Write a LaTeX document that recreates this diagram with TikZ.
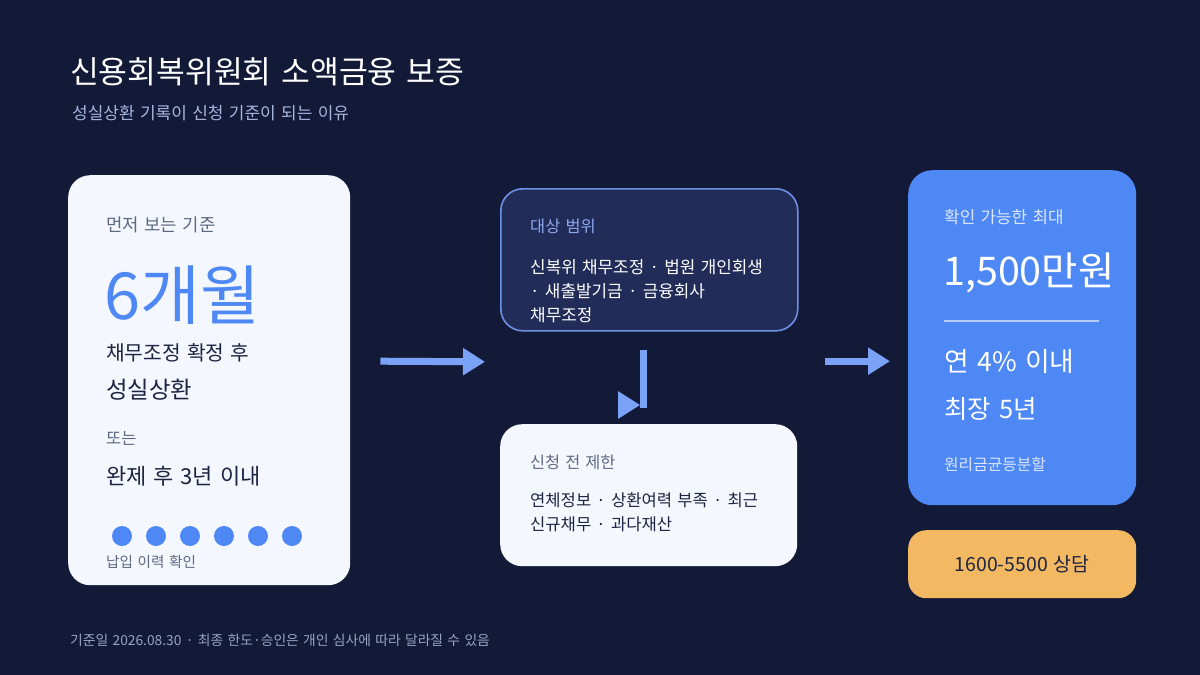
\documentclass[tikz,border=0pt]{standalone}
\usepackage{fontspec}
\setmainfont[WordSpace=1.4]{Noto Sans CJK KR}
\usepackage{xcolor}
\usepackage{tikz}
\usetikzlibrary{calc, positioning, arrows.meta}
\definecolor{pagebg}{HTML}{121A38}
\definecolor{paper}{HTML}{F4F7FE}
\definecolor{navybox}{HTML}{212C59}
\definecolor{navyline}{HTML}{6F90E4}
\definecolor{mainblue}{HTML}{4E88F4}
\definecolor{flowblue}{HTML}{7AA2F6}
\definecolor{peach}{HTML}{F2B862}
\definecolor{inkdark}{HTML}{1D2441}
\definecolor{inkgray}{HTML}{5F6882}
\definecolor{softblue}{HTML}{8DA7EE}
\definecolor{subtle}{HTML}{A8B6DE}
\definecolor{footgray}{HTML}{98A4C6}
\definecolor{paleblue}{HTML}{DCE7FF}
\definecolor{ruleblue}{HTML}{B5CBFA}
\tikzstyle{card} = [rectangle, rounded corners=22pt, 
inner sep=0pt, 
anchor=north west]
\tikzstyle{txt} = [anchor=west, 
inner sep=0pt, 
align=left]
\tikzstyle{dot} = [circle, fill=mainblue, minimum size=20pt, inner sep=0pt]
\tikzstyle{flowline} = [line width=7pt, draw=flowblue]
\tikzstyle{flow} = [flowline, -{Triangle[length=22pt, width=26pt]}]
\newcommand{\fs}[1]{\fontsize{#1}{#1}\selectfont}

\begin{document}
\begin{tikzpicture}[x=1pt, y=-1pt]
			\fill [pagebg] (0,0) rectangle (1200,675);
			\useasboundingbox (0,0) rectangle (1200,675);
			
			\node (title)[txt, text=white, font=\fs{31.3}] at (70,72) {신용회복위원회 소액금융 보증};
			\node (subtitle)[txt, text=subtle, font=\fs{17}] at (72,113) {성실상환 기록이 신청 기준이 되는 이유};
			
			% left card
			\node (leftCard)[card, fill=paper, minimum width=282pt, minimum height=410pt] at (68,175) {};
			\node (firstLbl)[txt, text=inkgray, font=\fs{17.8}] at (106,225) {먼저 보는 기준};
			\node (months)[txt, text=mainblue, font=\fs{65}] at (104,295) {6개월};
			\node (afterAdj)[txt, text=inkdark, font=\fs{20.3}] at (106,353) {채무조정 확정 후};
			\node (faithful)[txt, text=inkdark, font=\fs{23.4}] at (106,390) {성실상환};
			\node (orLbl)[txt, text=inkgray, font=\fs{16.5}] at (106,438) {또는};
			\node (paidOff)[txt, text=inkdark, font=\fs{22}] at (106,476) {완제 후 3년 이내};
			\foreach \i in {0,...,5}
				\node (dot\i)[dot] at ({122+34*\i},536) {};
			\node (payLbl)[txt, text=inkgray, font=\fs{14.6}] at (106,562) {납입 이력 확인};
			
			% middle boxes
			\node (scope)[card, fill=navybox, draw=navyline, line width=1.6pt, minimum width=297pt, minimum height=142pt] at (500,188) {};
			\node (scopeLbl)[txt, text=softblue, font=\fs{16.4}] at (530,226) {대상 범위};
			\node (scopeTxt)[txt, text=white, font=\fontsize{16.9}{24}\selectfont] at (530,291) {신복위 채무조정 · 법원 개인회생\\· 새출발기금 · 금융회사\\채무조정};
			
			\node (limits)[card, fill=paper, minimum width=297pt, minimum height=142pt] at (500,424) {};
			\node (limitsLbl)[txt, text=inkgray, font=\fs{16.3}] at (530,462) {신청 전 제한};
			\node (limitsTxt)[txt, text=inkdark, font=\fontsize{16.6}{24}\selectfont] at (530,512) {연체정보 · 상환여력 부족 · 최근\\신규채무 · 과다재산};
			
			% right card
			\node (blueCard)[card, rounded corners=24pt, fill=mainblue, minimum width=228pt, minimum height=335pt] at (908,170) {};
			\node (maxLbl)[txt, text=paleblue, font=\fs{16.9}] at (944,217) {확인 가능한 최대};
			\node (amount)[txt, text=white, font=\fs{39.5}] at (943,273) {1,500만원};
			\draw [ruleblue, line width=1.5pt] (944,321) -- (1099,321);
			\node (rate)[txt, text=white, font=\fs{26.8}] at (944,361) {연 4\% 이내};
			\node (term)[txt, text=white, font=\fs{25.5}] at (944,409) {최장 5년};
			\node (repay)[txt, text=paleblue, font=\fs{15.8}] at (944,465) {원리금균등분할};
			
			\node (call)[card, rounded corners=18pt, fill=peach, minimum width=228pt, minimum height=68pt] at (908,530) {};
			\node (callTxt)[text=inkdark, font=\fs{19.5}, inner sep=0pt] at (call.center) {1600-5500 상담};
			
			% connectors
			\draw [flow] ($(leftCard.east)+(30,-19)$) -- ($(scope.west)+(-15,102)$);
			\draw [flowline] ($(scope.south)+(-6,18)$) -- ++(0,58);
			\coordinate (dropTip) at ($(limits.north)+(-8.5,-19)$);
			\draw [flow] ($(dropTip)+(-22,0)$) -- (dropTip);
			\draw [flow] ($(blueCard.west)+(-83,23.5)$) -- ($(blueCard.west)+(-18,23.5)$);
			
			\node (footer)[txt, text=footgray, font=\fs{13.8}] at (70,640) {기준일 2026.08.30 · 최종 한도·승인은 개인 심사에 따라 달라질 수 있음};
		\end{tikzpicture}
\end{document}
